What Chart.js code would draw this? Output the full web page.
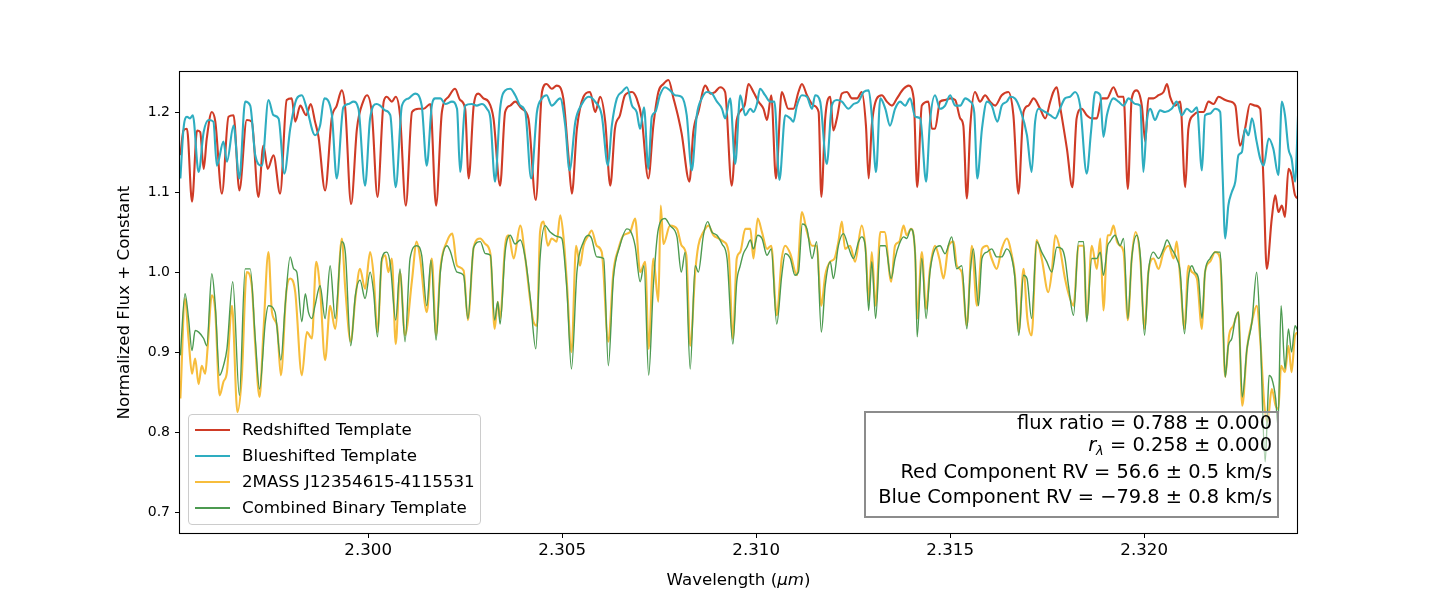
<!DOCTYPE html>
<html lang="en">
<head>
<meta charset="UTF-8" />
<title>Binary template fit</title>
<style>
  body { margin: 0; background: #fff; font-family: "DejaVu Sans", sans-serif; }
  .wrap { position: relative; width: 1440px; height: 600px; }
  #legend {
    position: absolute; left: 188px; top: 414px; width: 293px; height: 111px;
    box-sizing: border-box; border: 1px solid #cccccc; border-radius: 4px;
    background: rgba(255,255,255,0.8);
  }
  #legend .row { position: absolute; left: 0; width: 100%; height: 26px; }
  #legend .swatch { position: absolute; left: 6px; width: 35px; }
  #legend .lbl { position: absolute; left: 53px; top: 0; line-height: 26px; font-size: 16.67px; color: #000; white-space: nowrap; }
  #fitbox {
    position: absolute; left: 864px; top: 411px; width: 415px; height: 107px;
    box-sizing: border-box; border: 2px solid #8c8c8c;
    background: rgba(255,255,255,0.5);
  }
  #fitbox div { position: absolute; right: 5px; line-height: 22px; font-size: 19.4px; color: #000; white-space: nowrap; }
  #fitbox sub { font-size: 13px; vertical-align: -4px; line-height: 0; }
  #xtitle { position: absolute; left: 180px; width: 1117px; top: 570px; line-height: 20px; text-align: center; font-size: 16.67px; color: #000; }
</style>
<script src="https://cdn.jsdelivr.net/npm/chart.js"></script>
</head>
<body>
<div class="wrap">
  <canvas id="spec" width="1440" height="600"></canvas>
  <div id="legend"></div>
  <div id="fitbox">
    <div style="top:-1px">flux ratio = 0.788 ± 0.000</div>
    <div style="top:21px"><i>r<sub>λ</sub></i> = 0.258 ± 0.000</div>
    <div style="top:48px">Red Component RV = 56.6 ± 0.5 km/s</div>
    <div style="top:73px">Blue Component RV = −79.8 ± 0.8 km/s</div>
  </div>
  <div id="xtitle">Wavelength (<i>μm</i>)</div>
</div>

<script>
  // values (wavelength in micron, normalized flux + offset)
  const seriesLabels = ["Redshifted Template", "Blueshifted Template", "2MASS J12354615-4115531", "Combined Binary Template"];

  const redWave = [
    2.29516,2.29524,2.29533,2.29546,2.29559,2.29567,2.29576,2.29584,2.29597,2.29606,2.29623,2.29640,2.29653,2.29668,2.29687,2.29700,2.29717,2.29730,2.29741,2.29756,2.29773,2.29790,2.29803,2.29812,2.29825,2.29840,2.29852,2.29863,2.29872,2.29889,2.29906,2.29919,2.29932,2.29941,2.29956,2.29971,2.29987,2.29997,
    2.30010,2.30024,2.30040,2.30048,2.30061,2.30071,2.30082,2.30097,2.30113,2.30130,2.30143,2.30160,2.30175,2.30190,2.30207,2.30224,2.30237,2.30250,2.30259,2.30272,2.30284,2.30297,2.30310,2.30323,2.30340,2.30353,2.30366,2.30379,2.30396,2.30413,2.30432,2.30448,2.30460,2.30473,
    2.30486,2.30503,2.30516,2.30525,2.30538,2.30555,2.30572,2.30585,2.30598,2.30611,2.30624,2.30636,2.30649,2.30662,2.30680,2.30692,2.30705,2.30722,2.30735,2.30748,2.30761,2.30774,2.30787,2.30800,2.30808,2.30828,2.30838,2.30851,2.30869,2.30882,2.30894,2.30907,2.30920,2.30937,2.30950,
    2.30970,2.30980,2.30993,2.31006,2.31019,2.31028,2.31039,2.31051,2.31066,2.31083,2.31096,2.31109,2.31118,2.31131,2.31148,2.31161,2.31168,2.31178,2.31191,2.31199,2.31208,2.31221,2.31234,2.31247,2.31260,2.31272,2.31283,2.31290,2.31298,2.31311,2.31324,2.31337,2.31350,2.31363,2.31380,2.31393,2.31406,2.31415,2.31427,
    2.31444,2.31453,2.31461,2.31474,2.31487,2.31500,2.31513,2.31526,2.31534,2.31543,2.31552,2.31564,2.31577,2.31590,2.31603,2.31616,2.31633,2.31650,2.31663,2.31676,2.31689,2.31702,2.31715,2.31732,2.31745,2.31758,2.31766,2.31775,2.31783,2.31801,2.31815,2.31826,2.31839,2.31852,2.31865,2.31878,2.31891,2.31904,
    2.31921,2.31934,2.31947,2.31958,2.31968,2.31981,2.31994,2.32003,2.32011,2.32024,2.32037,2.32050,2.32059,2.32067,2.32080,2.32093,2.32106,2.32114,2.32127,2.32140,2.32153,2.32166,2.32179,2.32192,2.32209,2.32222,2.32235,2.32247,2.32260,2.32273,2.32286,2.32299,2.32308,2.32316,2.32329,2.32338,2.32346,2.32355,2.32363,2.32372,2.32380,2.32389,2.32397
  ];
  const redFlux = [
    1.146,1.177,1.179,1.088,1.177,1.175,1.129,1.167,1.200,1.188,1.098,1.194,1.196,1.102,1.190,1.188,1.094,1.158,1.129,1.146,1.098,1.215,1.217,1.188,1.208,1.196,1.210,1.188,1.169,1.102,1.192,1.208,1.227,1.204,1.085,1.179,1.213,1.221,
    1.196,1.094,1.213,1.219,1.213,1.219,1.196,1.083,1.200,1.204,1.204,1.210,1.083,1.200,1.219,1.229,1.215,1.204,1.117,1.208,1.223,1.217,1.213,1.192,1.108,1.200,1.208,1.213,1.204,1.192,1.090,1.225,1.235,1.229,
    1.233,1.217,1.146,1.098,1.179,1.219,1.225,1.200,1.219,1.188,1.108,1.179,1.196,1.221,1.225,1.217,1.192,1.117,1.183,1.225,1.235,1.240,1.217,1.192,1.173,1.113,1.175,1.200,1.233,1.223,1.225,1.231,1.225,1.108,1.190,
    1.208,1.235,1.225,1.213,1.204,1.190,1.221,1.117,1.225,1.204,1.204,1.225,1.235,1.221,1.208,1.200,1.094,1.192,1.219,1.177,1.192,1.223,1.225,1.217,1.217,1.225,1.183,1.117,1.183,1.217,1.221,1.213,1.208,1.217,1.229,1.233,1.217,1.106,1.208,
    1.213,1.179,1.179,1.213,1.215,1.217,1.215,1.192,1.183,1.092,1.183,1.225,1.213,1.221,1.213,1.208,1.221,1.225,1.196,1.098,1.200,1.208,1.217,1.204,1.192,1.213,1.225,1.231,1.208,1.154,1.106,1.192,1.204,1.196,1.192,1.192,1.217,1.217,
    1.231,1.219,1.219,1.104,1.217,1.227,1.208,1.163,1.217,1.217,1.221,1.225,1.235,1.219,1.208,1.213,1.106,1.179,1.196,1.200,1.200,1.213,1.210,1.219,1.215,1.213,1.208,1.158,1.179,1.210,1.208,1.204,1.108,1.004,1.067,1.096,1.075,1.083,1.069,1.129,1.121,1.096,1.092
  ];

  const blueWave = [
    2.29516,2.29524,2.29533,2.29541,2.29548,2.29563,2.29576,2.29589,2.29601,2.29610,2.29627,2.29636,2.29653,2.29668,2.29683,2.29696,2.29709,2.29726,2.29743,2.29756,2.29769,2.29784,2.29799,2.29816,2.29829,2.29842,2.29863,2.29876,2.29887,2.29906,2.29919,2.29936,2.29949,2.29962,2.29975,2.29992,2.30005,
    2.30022,2.30031,2.30044,2.30057,2.30071,2.30087,2.30104,2.30121,2.30138,2.30151,2.30164,2.30173,2.30186,2.30199,2.30216,2.30229,2.30237,2.30250,2.30267,2.30280,2.30293,2.30306,2.30315,2.30327,2.30340,2.30353,2.30366,2.30379,2.30392,2.30405,2.30420,2.30435,2.30448,2.30460,2.30473,
    2.30495,2.30508,2.30519,2.30534,2.30551,2.30568,2.30585,2.30602,2.30618,2.30628,2.30641,2.30654,2.30667,2.30680,2.30692,2.30701,2.30711,2.30722,2.30731,2.30740,2.30752,2.30765,2.30778,2.30791,2.30808,2.30821,2.30834,2.30847,2.30860,2.30873,2.30886,2.30899,2.30912,2.30920,2.30933,2.30946,
    2.30959,2.30972,2.30985,2.30993,2.31002,2.31010,2.31023,2.31036,2.31047,2.31060,2.31075,2.31088,2.31096,2.31105,2.31118,2.31131,2.31144,2.31152,2.31165,2.31182,2.31195,2.31208,2.31221,2.31238,2.31251,2.31264,2.31277,2.31290,2.31298,2.31309,2.31320,2.31333,2.31345,2.31358,2.31371,2.31384,2.31397,2.31410,2.31423,
    2.31438,2.31448,2.31461,2.31474,2.31487,2.31500,2.31513,2.31526,2.31539,2.31552,2.31562,2.31570,2.31582,2.31595,2.31607,2.31622,2.31633,2.31646,2.31655,2.31667,2.31680,2.31698,2.31710,2.31719,2.31728,2.31745,2.31758,2.31771,2.31783,2.31796,2.31809,2.31822,2.31835,2.31852,2.31863,2.31874,2.31887,2.31895,2.31904,
    2.31921,2.31934,2.31947,2.31960,2.31977,2.31990,2.31998,2.32007,2.32016,2.32028,2.32041,2.32054,2.32071,2.32084,2.32097,2.32110,2.32123,2.32136,2.32149,2.32157,2.32170,2.32183,2.32196,2.32202,2.32209,2.32217,2.32226,2.32235,2.32243,2.32252,2.32260,2.32269,2.32278,2.32290,2.32299,2.32308,2.32321,2.32333,2.32346,2.32355,2.32363,2.32372,2.32380,2.32389,2.32397
  ];
  const blueFlux = [
    1.117,1.179,1.194,1.192,1.196,1.125,1.175,1.190,1.188,1.133,1.163,1.138,1.183,1.117,1.213,1.208,1.146,1.133,1.215,1.196,1.192,1.123,1.179,1.217,1.221,1.204,1.171,1.183,1.217,1.198,1.117,1.206,1.210,1.213,1.204,1.108,1.192,
    1.210,1.208,1.202,1.196,1.106,1.208,1.217,1.223,1.208,1.133,1.208,1.217,1.217,1.210,1.213,1.204,1.125,1.208,1.210,1.208,1.210,1.204,1.192,1.113,1.204,1.227,1.229,1.221,1.208,1.200,1.117,1.200,1.217,1.221,1.208,
    1.217,1.183,1.127,1.188,1.210,1.219,1.213,1.196,1.133,1.183,1.217,1.225,1.231,1.208,1.200,1.179,1.206,1.129,1.194,1.200,1.221,1.231,1.227,1.221,1.219,1.196,1.127,1.196,1.217,1.225,1.223,1.213,1.204,1.192,1.217,1.135,
    1.221,1.196,1.204,1.200,1.210,1.229,1.221,1.213,1.213,1.115,1.196,1.192,1.188,1.208,1.221,1.219,1.204,1.221,1.213,1.135,1.208,1.215,1.213,1.204,1.210,1.213,1.225,1.227,1.196,1.125,1.217,1.204,1.183,1.204,1.213,1.208,1.217,1.194,1.192,
    1.113,1.188,1.221,1.204,1.208,1.221,1.208,1.208,1.217,1.213,1.200,1.117,1.179,1.213,1.208,1.188,1.208,1.213,1.219,1.217,1.204,1.171,1.125,1.188,1.204,1.200,1.196,1.192,1.204,1.217,1.219,1.225,1.208,1.123,1.175,1.225,1.221,1.169,1.196,
    1.217,1.213,1.208,1.217,1.210,1.208,1.125,1.188,1.204,1.190,1.202,1.200,1.204,1.213,1.196,1.204,1.200,1.206,1.127,1.196,1.198,1.204,1.200,1.125,1.042,1.083,1.100,1.113,1.146,1.150,1.179,1.171,1.192,1.163,1.142,1.133,1.167,1.154,1.121,1.213,1.196,1.154,1.142,1.113,1.200
  ];

  const starWave = [
    2.29516,2.29528,2.29537,2.29546,2.29554,2.29563,2.29571,2.29580,2.29586,2.29597,2.29606,2.29617,2.29627,2.29636,2.29649,2.29663,2.29674,2.29687,2.29700,2.29709,2.29720,2.29730,2.29743,2.29752,2.29765,2.29775,2.29789,2.29799,2.29812,2.29829,2.29842,2.29855,2.29866,2.29876,2.29889,2.29902,2.29915,2.29932,2.29941,2.29955,2.29967,2.29979,2.29992,2.30005,
    2.30014,2.30024,2.30035,2.30044,2.30052,2.30061,2.30071,2.30082,2.30095,2.30113,2.30125,2.30134,2.30151,2.30164,2.30175,2.30186,2.30203,2.30217,2.30229,2.30246,2.30257,2.30272,2.30289,2.30302,2.30315,2.30326,2.30334,2.30340,2.30353,2.30362,2.30375,2.30392,2.30405,2.30418,2.30426,2.30435,2.30443,2.30452,2.30463,2.30473,
    2.30486,2.30495,2.30503,2.30512,2.30524,2.30536,2.30546,2.30555,2.30568,2.30576,2.30589,2.30602,2.30619,2.30632,2.30645,2.30658,2.30675,2.30688,2.30701,2.30714,2.30723,2.30735,2.30748,2.30754,2.30761,2.30778,2.30796,2.30808,2.30820,2.30830,2.30843,2.30851,2.30864,2.30877,2.30890,2.30903,2.30916,2.30929,2.30940,2.30950,
    2.30959,2.30972,2.30985,2.30993,2.31004,2.31015,2.31028,2.31039,2.31053,2.31066,2.31075,2.31088,2.31105,2.31118,2.31131,2.31144,2.31156,2.31168,2.31178,2.31191,2.31202,2.31212,2.31221,2.31229,2.31242,2.31255,2.31272,2.31283,2.31290,2.31298,2.31308,2.31320,2.31331,2.31348,2.31358,2.31369,2.31380,2.31388,2.31399,2.31410,2.31415,2.31427,
    2.31438,2.31448,2.31461,2.31472,2.31483,2.31496,2.31509,2.31517,2.31530,2.31543,2.31556,2.31569,2.31582,2.31595,2.31607,2.31620,2.31633,2.31646,2.31659,2.31667,2.31677,2.31689,2.31699,2.31710,2.31723,2.31736,2.31753,2.31762,2.31771,2.31783,2.31796,2.31809,2.31818,2.31831,2.31844,2.31852,2.31865,2.31878,2.31887,2.31895,2.31906,
    2.31912,2.31921,2.31930,2.31938,2.31947,2.31958,2.31968,2.31978,2.31990,2.32001,2.32011,2.32024,2.32037,2.32050,2.32063,2.32076,2.32084,2.32093,2.32104,2.32114,2.32123,2.32136,2.32149,2.32157,2.32170,2.32183,2.32196,2.32202,2.32209,2.32219,2.32230,2.32243,2.32253,2.32265,2.32278,2.32290,2.32299,2.32310,2.32318,2.32329,2.32339,2.32346,2.32353,2.32363,2.32372,2.32380,2.32389,2.32397
  ];
  const starFlux = [
    0.842,0.967,0.917,0.873,0.892,0.860,0.883,0.873,0.904,0.971,0.950,0.846,0.863,0.875,0.958,0.825,0.867,1.000,0.983,0.908,0.844,0.925,1.025,0.950,0.933,0.871,0.975,0.992,0.975,0.871,0.925,0.917,1.013,0.979,0.890,0.958,0.929,1.042,0.979,0.913,0.967,1.004,0.979,1.025,
    0.996,0.925,1.013,1.021,1.000,1.017,0.910,1.000,0.921,0.990,1.038,1.017,0.950,1.017,0.921,1.004,1.038,1.048,1.008,1.002,0.940,1.031,1.042,1.035,1.023,0.929,0.963,0.942,1.033,1.046,1.017,1.058,1.017,0.963,0.938,0.933,1.050,1.063,1.033,1.042,
    1.038,1.071,1.046,0.988,0.900,1.033,1.008,1.033,1.046,1.052,1.033,1.025,0.913,1.000,1.029,1.046,1.050,1.067,1.000,1.013,0.904,1.017,0.963,1.083,1.035,1.058,1.054,1.033,1.021,0.908,1.000,1.033,1.050,1.058,1.046,1.042,1.038,1.025,0.917,1.017,
    1.025,1.054,1.054,1.017,1.067,1.050,1.029,1.033,0.946,1.017,1.033,1.023,0.996,1.075,1.050,1.033,1.033,0.958,0.996,1.013,1.017,1.038,1.063,1.029,1.033,1.013,1.058,1.023,0.963,1.025,0.958,1.050,1.050,0.988,1.033,1.038,1.058,1.046,1.054,1.021,0.942,1.025,
    0.954,1.004,1.033,1.017,0.992,1.033,1.038,1.008,1.000,0.933,1.033,0.958,1.029,1.033,1.017,1.004,1.029,1.042,1.021,0.996,0.925,1.004,0.942,0.921,1.040,1.017,0.975,1.000,1.046,1.029,0.992,0.967,0.958,1.033,1.033,0.942,1.033,1.004,1.042,0.952,1.046,
    1.046,1.058,1.038,1.033,1.025,0.940,1.017,1.050,1.017,0.929,1.000,1.017,1.004,1.025,1.033,1.017,1.038,0.992,0.929,1.008,1.000,0.992,0.929,1.000,1.013,1.025,1.017,0.950,0.869,0.921,0.933,0.950,0.833,0.904,0.938,0.958,0.917,0.833,0.813,0.854,0.833,0.829,0.883,0.875,0.908,0.875,0.921,0.925
  ];

  const comboWave = [
    2.29516,2.29528,2.29537,2.29546,2.29554,2.29563,2.29576,2.29584,2.29597,2.29606,2.29617,2.29627,2.29636,2.29651,2.29668,2.29683,2.29696,2.29709,2.29720,2.29735,2.29743,2.29760,2.29775,2.29786,2.29799,2.29808,2.29816,2.29829,2.29838,2.29846,2.29855,2.29863,2.29876,2.29889,2.29902,2.29915,2.29932,2.29941,2.29955,2.29967,2.29979,2.29992,2.30005,
    2.30014,2.30024,2.30035,2.30048,2.30057,2.30071,2.30082,2.30095,2.30108,2.30125,2.30138,2.30151,2.30162,2.30175,2.30186,2.30203,2.30211,2.30229,2.30246,2.30257,2.30272,2.30289,2.30302,2.30315,2.30326,2.30334,2.30340,2.30353,2.30366,2.30379,2.30392,2.30405,2.30418,2.30432,2.30443,2.30456,2.30469,
    2.30491,2.30499,2.30512,2.30524,2.30538,2.30555,2.30568,2.30576,2.30589,2.30607,2.30619,2.30632,2.30649,2.30667,2.30675,2.30688,2.30701,2.30711,2.30723,2.30735,2.30748,2.30765,2.30778,2.30796,2.30807,2.30817,2.30830,2.30843,2.30851,2.30864,2.30875,2.30886,2.30899,2.30912,2.30925,2.30940,2.30950,
    2.30959,2.30967,2.30976,2.30985,2.30993,2.31004,2.31015,2.31028,2.31039,2.31053,2.31066,2.31075,2.31088,2.31100,2.31109,2.31119,2.31131,2.31144,2.31156,2.31168,2.31178,2.31191,2.31199,2.31212,2.31225,2.31238,2.31251,2.31264,2.31272,2.31281,2.31290,2.31298,2.31308,2.31320,2.31333,2.31348,2.31358,2.31369,2.31380,2.31388,2.31399,2.31410,2.31415,2.31427,
    2.31438,2.31448,2.31461,2.31474,2.31487,2.31504,2.31517,2.31530,2.31543,2.31552,2.31560,2.31573,2.31582,2.31595,2.31607,2.31620,2.31633,2.31646,2.31659,2.31667,2.31677,2.31689,2.31698,2.31710,2.31723,2.31736,2.31749,2.31762,2.31775,2.31788,2.31796,2.31805,2.31818,2.31831,2.31844,2.31852,2.31865,2.31878,2.31887,2.31895,2.31906,
    2.31912,2.31925,2.31938,2.31947,2.31958,2.31968,2.31981,2.31990,2.32001,2.32011,2.32024,2.32037,2.32050,2.32059,2.32071,2.32084,2.32093,2.32104,2.32114,2.32123,2.32131,2.32140,2.32149,2.32157,2.32170,2.32183,2.32196,2.32202,2.32209,2.32217,2.32226,2.32235,2.32243,2.32247,2.32253,2.32265,2.32278,2.32290,2.32299,2.32312,2.32318,2.32322,2.32329,2.32339,2.32345,2.32353,2.32363,2.32372,2.32380,2.32389,2.32397
  ];
  const comboFlux = [
    0.896,0.973,0.942,0.902,0.927,0.925,0.917,0.908,0.998,0.958,0.871,0.883,0.904,0.988,0.846,1.004,1.004,0.917,0.854,0.938,0.958,0.950,0.890,0.958,1.019,1.004,1.000,0.938,0.973,0.950,0.942,0.958,0.983,0.942,1.008,0.942,1.038,1.025,0.908,0.971,0.990,0.967,1.000,
    0.975,0.919,1.017,1.025,1.010,0.940,1.004,0.913,1.017,1.033,1.021,0.958,1.015,0.915,1.000,1.033,1.027,1.000,0.996,0.942,1.031,1.038,1.023,1.021,0.940,0.963,0.935,1.025,1.046,1.035,1.040,1.017,0.967,0.904,1.017,1.058,1.050,
    1.044,1.042,0.979,0.879,1.000,1.038,1.046,1.042,1.019,1.017,0.883,0.992,1.033,1.054,1.052,1.033,0.988,1.008,0.871,0.983,1.054,1.067,1.058,1.044,1.000,1.025,0.879,1.008,1.000,1.046,1.063,1.050,1.046,1.035,1.017,0.910,0.988,
    1.008,1.023,1.031,1.040,1.029,1.046,1.042,1.021,1.029,0.935,0.996,1.023,1.017,0.996,1.000,1.060,1.054,1.017,1.038,0.925,0.983,1.013,0.992,1.033,1.048,1.031,1.017,1.038,1.044,1.033,0.952,1.013,0.942,1.033,1.033,0.992,1.017,1.035,1.044,1.042,1.054,1.021,0.919,1.017,
    0.942,1.000,1.029,1.033,1.023,1.044,1.004,1.008,0.929,1.000,1.029,0.958,1.017,1.025,1.029,1.019,1.019,1.029,1.017,0.992,0.921,0.996,0.992,0.942,1.038,1.025,1.013,1.000,1.031,1.029,1.017,0.983,0.946,1.038,1.038,0.938,1.017,1.017,1.025,0.996,1.033,
    1.038,1.046,1.033,1.042,0.942,1.017,1.046,1.021,0.921,1.000,1.025,1.017,1.029,1.040,1.029,1.017,1.000,0.923,0.992,1.008,1.000,0.992,0.942,1.000,1.017,1.025,1.025,0.958,0.869,0.908,0.917,0.942,0.950,0.908,0.844,0.904,0.938,1.000,0.925,0.763,0.829,0.871,0.867,0.842,0.808,0.958,0.879,0.929,0.900,0.933,0.925
  ];

  const colors = ["#cf3b26", "#2eadc0", "#f7bd3c", "#4c9a50"];
  const widths = [2.1, 2.1, 2.1, 1.4];

  function pairs(xs, ys) {
    const n = Math.min(xs.length, ys.length);
    const out = [];
    for (let i = 0; i < n; i++) out.push({ x: xs[i], y: ys[i] });
    return out;
  }

  // matplotlib-style box around the axes
  const frame = {
    id: "frame",
    afterDatasetsDraw(chart) {
      const a = chart.chartArea, c = chart.ctx;
      c.save();
      c.strokeStyle = "#000";
      c.lineWidth = 1.1;
      c.strokeRect(Math.round(a.left) - 0.5, Math.round(a.top) - 0.5, Math.round(a.right - a.left) + 1, Math.round(a.bottom - a.top) + 1);
      c.restore();
    }
  };

  Chart.defaults.font.family = "'DejaVu Sans', sans-serif";
  Chart.defaults.color = "#000";

  const sets = [redWave, blueWave, starWave, comboWave].map((w, i) => ({
    label: seriesLabels[i],
    data: pairs(w, [redFlux, blueFlux, starFlux, comboFlux][i]),
    borderColor: colors[i],
    borderWidth: widths[i],
    pointRadius: 0,
    cubicInterpolationMode: "monotone",
    fill: false,
    order: 4 - i
  }));

  const chart = new Chart(document.getElementById("spec"), {
    type: "line",
    data: { datasets: sets },
    options: {
      responsive: false,
      animation: false,
      devicePixelRatio: 1,
      layout: { padding: { left: 111, top: 72, right: 143, bottom: 0 } },
      plugins: { legend: { display: false }, tooltip: { enabled: false } },
      scales: {
        x: {
          type: "linear",
          min: 2.29515,
          max: 2.32394,
          afterFit: s => { s.height = 67; },
          border: { display: false },
          grid: { display: true, drawOnChartArea: false, drawTicks: true, tickLength: 5, color: "#000" },
          ticks: {
            stepSize: 0.005, includeBounds: false, autoSkip: false, maxRotation: 0,
            padding: 3, color: "#000", font: { size: 16.67 },
            callback: v => v.toFixed(3)
          }
        },
        y: {
          type: "linear",
          min: 0.674,
          max: 1.25,
          afterFit: s => { s.width = 69; },
          border: { display: false },
          grid: { display: true, drawOnChartArea: false, drawTicks: true, tickLength: 5, color: "#000" },
          title: { display: true, text: "Normalized Flux + Constant", color: "#000", font: { size: 16.67 }, padding: { top: 4, bottom: 4 } },
          ticks: {
            stepSize: 0.1, includeBounds: false, padding: 5, color: "#000", font: { size: 14 },
            callback: v => v.toFixed(1)
          }
        }
      }
    },
    plugins: [frame]
  });

  // legend box built from the datasets
  const legend = document.getElementById("legend");
  chart.data.datasets.forEach((ds, i) => {
    const row = document.createElement("div");
    row.className = "row";
    row.style.top = (2 + i * 26) + "px";
    const sw = document.createElement("span");
    sw.className = "swatch";
    sw.style.background = ds.borderColor;
    sw.style.height = ds.borderWidth + "px";
    sw.style.top = (13 - ds.borderWidth / 2) + "px";
    const lbl = document.createElement("span");
    lbl.className = "lbl";
    lbl.textContent = ds.label;
    row.appendChild(sw);
    row.appendChild(lbl);
    legend.appendChild(row);
  });
</script>
</body>
</html>
